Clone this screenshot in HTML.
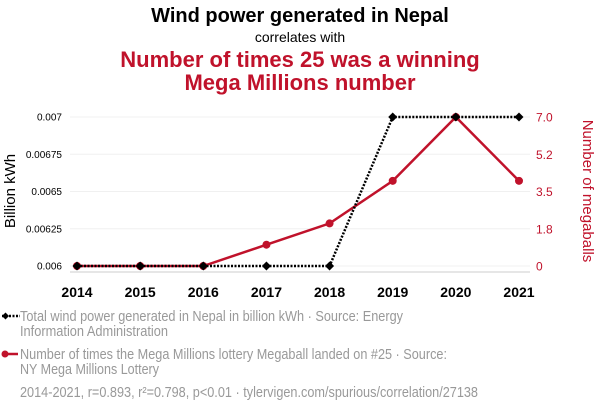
<!DOCTYPE html>
<html><head><meta charset="utf-8"><style>
body{margin:0;background:#fff;}
svg{display:block;font-family:"Liberation Sans",Arial,sans-serif;}
</style></head><body>
<svg id="c" width="600" height="414" viewBox="0 0 600 414">
<text x="300" y="22" text-anchor="middle" font-size="20" font-weight="bold" fill="#000">Wind power generated in Nepal</text>
<text x="300" y="42" text-anchor="middle" font-size="14" fill="#000">correlates with</text>
<text x="300" y="67" text-anchor="middle" font-size="22" font-weight="bold" fill="#c0122b">Number of times 25 was a winning</text>
<text x="300" y="90" text-anchor="middle" font-size="22" font-weight="bold" fill="#c0122b">Mega Millions number</text>
<g id="grid"></g>
<line x1="70" x2="530" y1="272" y2="272" stroke="#ccc"/>
<g id="xt"></g><g id="lt"></g><g id="rt"></g>
<text transform="translate(15,191) rotate(-90)" text-anchor="middle" font-size="15" fill="#000">Billion kWh</text>
<text transform="translate(583,191) rotate(90)" text-anchor="middle" font-size="15" fill="#c0122b">Number of megaballs</text>
<g id="series"></g>
<g>
<line x1="2" x2="20" y1="316" y2="316" stroke="#000" stroke-width="2.5" stroke-dasharray="2,1.5"/>
<path d="M2 316 L5.5 312.5 L9 316 L5.5 319.5Z" fill="#000"/>
<text x="20" y="321" font-size="14.5" fill="#999" textLength="383" lengthAdjust="spacingAndGlyphs">Total wind power generated in Nepal in billion kWh · Source: Energy</text>
<text x="20" y="336" font-size="14.5" fill="#999" textLength="148" lengthAdjust="spacingAndGlyphs">Information Administration</text>
</g>
<g>
<line x1="4" x2="18" y1="354" y2="354" stroke="#c0122b" stroke-width="2.5"/>
<circle cx="5" cy="354" r="3.5" fill="#c0122b"/>
<text x="20" y="359" font-size="14.5" fill="#999" textLength="427" lengthAdjust="spacingAndGlyphs">Number of times the Mega Millions lottery Megaball landed on #25 · Source:</text>
<text x="20" y="374" font-size="14.5" fill="#999" textLength="139" lengthAdjust="spacingAndGlyphs">NY Mega Millions Lottery</text>
</g>
<text x="20" y="397" font-size="14.5" fill="#999" textLength="458" lengthAdjust="spacingAndGlyphs">2014-2021, r=0.893, r²=0.798, p&lt;0.01 · tylervigen.com/spurious/correlation/27138</text>
</svg>
<script>
const years=[2014,2015,2016,2017,2018,2019,2020,2021];
const wind=[0.006,0.006,0.006,0.006,0.006,0.007,0.007,0.007];
const megaballs=[0,0,0,1,2,4,7,4];
const leftTicks=[0.006,0.00625,0.0065,0.00675,0.007];
const leftTickLabels=["0.006","0.00625","0.0065","0.00675","0.007"];
const rightTicks=[0,1.75,3.5,5.25,7];
const rightTickLabels=["0","1.8","3.5","5.2","7.0"];
const NS="http://www.w3.org/2000/svg";
const x=i=>77+(519-77)*(years[i]-2014)/7;
const yl=v=>266-(v-0.006)/0.001*149;
const yr=v=>266-v/7*149;
function mk(t,a,p){const e=document.createElementNS(NS,t);for(const k in a)e.setAttribute(k,a[k]);document.getElementById(p).appendChild(e);return e;}
leftTicks.forEach((v,i)=>{
 const g=mk('line',{x1:70,x2:530,y1:yl(v),y2:yl(v),stroke:'#f0f0f0'},'grid');
 
 
 const t=mk('text',{x:62,y:yl(v)+3.5,'text-anchor':'end','font-size':10,fill:'#000'},'lt');t.textContent=leftTickLabels[i];
 
 
});
rightTicks.forEach((v,i)=>{
 const t=mk('text',{x:536,y:yr(v)+4.5,'font-size':12,fill:'#c0122b'},'rt');t.textContent=rightTickLabels[i];
 
 
});
years.forEach((y,i)=>{
 const t=mk('text',{x:x(i),y:297,'text-anchor':'middle','font-size':14,'font-weight':'bold',fill:'#000'},'xt');t.textContent=y;
 
 
});
const rp=mk('polyline',{points:megaballs.map((v,i)=>x(i)+','+yr(v)).join(' '),fill:'none',stroke:'#c0122b','stroke-width':2.5},'series');


megaballs.forEach((v,i)=>{const c=mk('circle',{cx:x(i),cy:yr(v),r:4,fill:'#c0122b'},'series');
 
 });
const wp=mk('polyline',{points:wind.map((v,i)=>x(i)+','+yl(v)).join(' '),fill:'none',stroke:'#000','stroke-width':2.5,'stroke-dasharray':'2,1.5'},'series');


wind.forEach((v,i)=>{const X=x(i),Y=yl(v);const d=mk('path',{d:`M${X-4.5} ${Y} L${X} ${Y-4.5} L${X+4.5} ${Y} L${X} ${Y+4.5}Z`,fill:'#000'},'series');
 
 });
</script>
</body></html>
